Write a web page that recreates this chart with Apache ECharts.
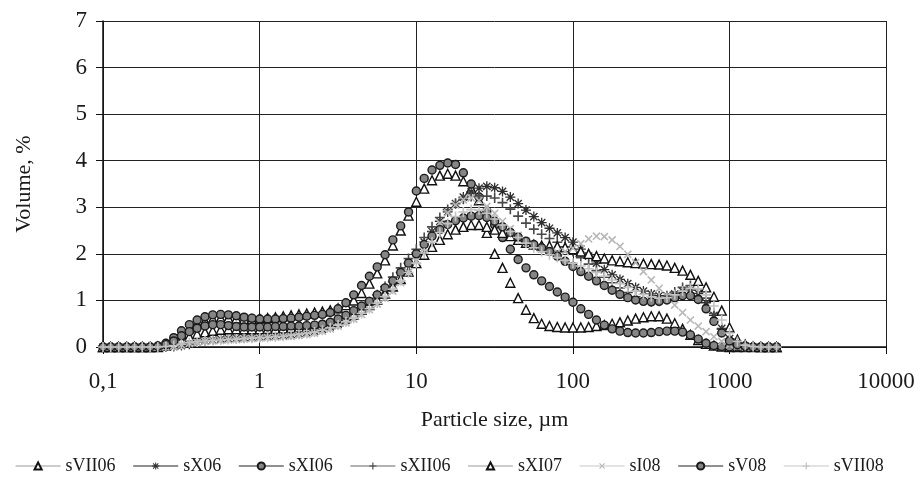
<!DOCTYPE html>
<html>
<head>
<meta charset="utf-8">
<script src="https://cdn.jsdelivr.net/npm/echarts@6/dist/echarts.min.js"></script>
<style>
  html, body { margin: 0; padding: 0; background: #fff; }
  #chart { width: 922px; height: 477px; }
</style>
</head>
<body>
<div id="chart"></div>
<script>
// particle size classes, µm
var sizes = [
  0.100, 0.112, 0.126, 0.142, 0.159, 0.178, 0.200, 0.224, 0.252, 0.283, 0.317, 0.356, 0.399, 0.448, 0.502, 0.564, 0.632, 0.710, 0.796, 0.893,
  1.002, 1.125, 1.262, 1.416, 1.589, 1.783, 2.000, 2.244, 2.518, 2.825, 3.170, 3.557, 3.991, 4.477, 5.024, 5.637, 6.325, 7.096, 7.962, 8.934,
  10.02, 11.25, 12.62, 14.16, 15.89, 17.83, 20.00, 22.44, 25.18, 28.25, 31.70, 35.57, 39.91, 44.77, 50.24, 56.37, 63.25, 70.96, 79.62, 89.34,
  100.2, 112.5, 126.2, 141.6, 158.9, 178.3, 200.0, 224.4, 251.8, 282.5, 317.0, 355.7, 399.1, 447.7, 502.4, 563.7, 632.5, 709.6, 796.2, 893.4,
  1002, 1125, 1262, 1416, 1589, 1783, 2000
];

// volume, %
var sVII06 = [
  0, 0, 0, 0, 0, 0, 0, 0.01, 0.05, 0.14, 0.27, 0.4, 0.5, 0.56, 0.6, 0.62, 0.62, 0.61, 0.6, 0.6,
  0.61, 0.62, 0.64, 0.66, 0.68, 0.7, 0.72, 0.74, 0.76, 0.79, 0.83, 0.9, 1.0, 1.16, 1.36, 1.58, 1.86, 2.18, 2.5, 2.82,
  3.12, 3.4, 3.58, 3.68, 3.72, 3.68, 3.56, 3.4, 3.15, 2.45, 2.0, 1.7, 1.38, 1.05, 0.8, 0.62, 0.5, 0.45, 0.43, 0.42,
  0.42, 0.42, 0.43, 0.45, 0.47, 0.5, 0.53, 0.57, 0.61, 0.64, 0.66, 0.66, 0.61, 0.51, 0.39, 0.26, 0.15, 0.07, 0.03, 0.01,
  0, 0, 0, 0, 0, 0, 0
];
var sX06 = [
  0, 0, 0, 0, 0, 0, 0, 0, 0, 0.01, 0.03, 0.06, 0.1, 0.13, 0.15, 0.17, 0.18, 0.19, 0.2, 0.21,
  0.22, 0.23, 0.24, 0.25, 0.27, 0.29, 0.31, 0.34, 0.38, 0.43, 0.49, 0.57, 0.66, 0.77, 0.9, 1.05, 1.22, 1.4, 1.6, 1.8,
  2.02, 2.25, 2.48, 2.7, 2.9, 3.08, 3.22, 3.33, 3.41, 3.45, 3.42, 3.34, 3.22, 3.08, 2.94, 2.8, 2.67, 2.55, 2.45, 2.35,
  2.25, 2.1, 1.95, 1.8, 1.66, 1.55, 1.45, 1.36, 1.28, 1.2, 1.14, 1.1, 1.1, 1.14, 1.2, 1.22, 1.15, 0.95, 0.68, 0.4,
  0.18, 0.07, 0.02, 0, 0, 0, 0
];
var sXI06 = [
  0, 0, 0, 0, 0, 0, 0, 0.02, 0.08, 0.2, 0.35, 0.48, 0.58, 0.65, 0.69, 0.7, 0.69, 0.67, 0.64, 0.62,
  0.6, 0.6, 0.6, 0.61, 0.62, 0.64, 0.66, 0.68, 0.7, 0.74, 0.82, 0.95, 1.12, 1.32, 1.52, 1.72, 1.98, 2.3, 2.6, 2.9,
  3.35, 3.62, 3.8, 3.9, 3.95, 3.92, 3.74, 3.5, 3.22, 2.92, 2.62, 2.35, 2.1, 1.88, 1.7, 1.55, 1.42, 1.3, 1.18, 1.07,
  0.96, 0.82, 0.7, 0.58, 0.47, 0.39, 0.34, 0.31, 0.3, 0.3, 0.31, 0.33, 0.34, 0.34, 0.32, 0.26, 0.17, 0.08, 0.03, 0.01,
  0, 0, 0, 0, 0, 0, 0
];
var sXII06 = [
  0, 0, 0, 0, 0, 0, 0, 0, 0.01, 0.03, 0.06, 0.1, 0.13, 0.16, 0.18, 0.2, 0.21, 0.22, 0.22, 0.23,
  0.24, 0.25, 0.26, 0.27, 0.29, 0.31, 0.34, 0.37, 0.41, 0.46, 0.53, 0.61, 0.71, 0.83, 0.97, 1.12, 1.3, 1.5, 1.7, 1.9,
  2.1, 2.35, 2.58, 2.78, 2.95, 3.08, 3.17, 3.23, 3.25, 3.24, 3.2, 3.1, 2.96, 2.81, 2.66, 2.53, 2.42, 2.33, 2.25, 2.15,
  2.05, 1.92, 1.78, 1.64, 1.5, 1.38, 1.27, 1.17, 1.08, 1.0, 0.97, 0.98, 1.05, 1.18, 1.28, 1.32, 1.25, 1.05, 0.72, 0.38,
  0.15, 0.05, 0.01, 0, 0, 0, 0
];
var sXI07 = [
  0, 0, 0, 0, 0, 0, 0, 0, 0.03, 0.08, 0.15, 0.22, 0.28, 0.32, 0.35, 0.37, 0.38, 0.38, 0.38, 0.38,
  0.38, 0.39, 0.39, 0.4, 0.41, 0.42, 0.43, 0.45, 0.47, 0.5, 0.55, 0.62, 0.7, 0.8, 0.9, 1.02, 1.15, 1.3, 1.46, 1.62,
  1.8, 1.98, 2.15, 2.3, 2.42, 2.52, 2.58, 2.62, 2.62, 2.58, 2.52, 2.45, 2.38, 2.3, 2.24, 2.2, 2.18, 2.17, 2.16, 2.14,
  2.1, 2.05, 2.0, 1.95, 1.9, 1.86, 1.84, 1.82, 1.8, 1.79, 1.78, 1.77, 1.75, 1.7, 1.64, 1.55, 1.42, 1.28, 1.08, 0.78,
  0.42, 0.16, 0.05, 0.01, 0, 0, 0
];
var sI08 = [
  0, 0, 0, 0, 0, 0, 0, 0, 0, 0.02, 0.05, 0.08, 0.1, 0.12, 0.13, 0.14, 0.15, 0.16, 0.17, 0.18,
  0.19, 0.2, 0.21, 0.22, 0.23, 0.25, 0.27, 0.3, 0.34, 0.39, 0.45, 0.52, 0.6, 0.7, 0.8, 0.92, 1.05, 1.2, 1.38, 1.6,
  1.85, 2.12, 2.4, 2.66, 2.88, 3.05, 3.16, 3.2, 3.14, 3.02, 2.87, 2.7, 2.54, 2.4, 2.28, 2.18, 2.1, 2.05, 2.03, 2.05,
  2.12, 2.22, 2.32, 2.38, 2.37, 2.3, 2.16, 1.99, 1.81, 1.62, 1.44, 1.26, 1.08, 0.9, 0.74, 0.58, 0.45, 0.33, 0.22, 0.12,
  0.05, 0.02, 0, 0, 0, 0, 0
];
var sV08 = [
  0, 0, 0, 0, 0, 0, 0, 0.01, 0.05, 0.13, 0.24, 0.33, 0.4, 0.45, 0.48, 0.48, 0.46, 0.44, 0.43, 0.43,
  0.43, 0.43, 0.44, 0.44, 0.45, 0.45, 0.46, 0.47, 0.49, 0.53, 0.6, 0.68, 0.78, 0.88, 0.98, 1.12, 1.27, 1.42, 1.6, 1.8,
  2.0, 2.2, 2.38, 2.52, 2.63, 2.71, 2.77, 2.81, 2.82, 2.78, 2.7, 2.58, 2.46, 2.36, 2.27, 2.2, 2.13, 2.05, 1.95, 1.84,
  1.73, 1.62, 1.52, 1.42, 1.32, 1.22, 1.13, 1.06, 1.01, 0.98, 0.97, 0.98, 1.01, 1.06, 1.1, 1.1, 1.02, 0.82, 0.55, 0.3,
  0.13, 0.05, 0.02, 0, 0, 0, 0
];
var sVII08 = [
  0, 0, 0, 0, 0, 0, 0, 0, 0.01, 0.03, 0.06, 0.09, 0.11, 0.13, 0.14, 0.15, 0.16, 0.17, 0.18, 0.19,
  0.2, 0.21, 0.22, 0.23, 0.25, 0.27, 0.29, 0.32, 0.36, 0.41, 0.47, 0.54, 0.62, 0.72, 0.82, 0.94, 1.08, 1.24, 1.42, 1.6,
  1.8, 2.02, 2.25, 2.46, 2.65, 2.8, 2.9, 2.95, 2.94, 2.87, 2.75, 2.62, 2.48, 2.35, 2.23, 2.13, 2.05, 1.98, 1.92, 1.86,
  1.8, 1.74, 1.68, 1.6, 1.52, 1.44, 1.36, 1.28, 1.2, 1.13, 1.08, 1.05, 1.06, 1.12, 1.2, 1.26, 1.25, 1.12, 0.88, 0.58,
  0.3, 0.12, 0.04, 0.01, 0, 0, 0
];

var FONT = 'Liberation Serif';
var PLUS = 'path://M4.2,0h1.6v10h-1.6z M0,4.2h10v1.6h-10z';
var STAR = 'path://M4.35,0h1.3v10h-1.3z M0,4.35h10v1.3h-10z M0.9,1.85L1.85,0.9L9.1,8.15L8.15,9.1z M8.15,0.9L9.1,1.85L1.85,9.1L0.9,8.15z';

function pairs(vals) {
  return sizes.map(function (s, i) { return [s, vals[i]]; });
}

var defs = [
  { name: 'sVII06', data: sVII06, symbol: 'triangle', size: 9, fill: '#fff', stroke: '#111', line: '#9a9a9a' },
  { name: 'sX06', data: sX06, symbol: STAR, size: 10, fill: '#2e2e2e', stroke: null, line: '#222' },
  { name: 'sXI06', data: sXI06, symbol: 'circle', size: 8, fill: '#858585', stroke: '#1a1a1a', line: '#222' },
  { name: 'sXII06', data: sXII06, symbol: PLUS, size: 10, fill: '#484848', stroke: null, line: '#666' },
  { name: 'sXI07', data: sXI07, symbol: 'triangle', size: 9, fill: '#fff', stroke: '#111', line: '#9a9a9a' },
  { name: 'sI08', data: sI08, symbol: PLUS, size: 10, rotate: 45, fill: '#b8b8b8', stroke: null, line: '#c8c8c8' },
  { name: 'sV08', data: sV08, symbol: 'circle', size: 8, fill: '#858585', stroke: '#1a1a1a', line: '#222' },
  { name: 'sVII08', data: sVII08, symbol: PLUS, size: 10, fill: '#c2c2c2', stroke: null, line: '#c8c8c8' }
];

var series = defs.map(function (d) {
  return {
    name: d.name,
    type: 'line',
    data: pairs(d.data),
    symbol: d.symbol,
    symbolSize: d.size,
    symbolRotate: d.rotate || 0,
    showAllSymbol: true,
    lineStyle: { opacity: 0 },
    itemStyle: {
      color: d.fill,
      borderColor: d.stroke || d.fill,
      borderWidth: d.stroke ? 1.4 : 0
    },
    emphasis: { disabled: true }
  };
});

var chart = echarts.init(document.getElementById('chart'));
chart.setOption({
  animation: false,
  backgroundColor: '#fff',
  grid: { left: 103, right: 36, top: 21, bottom: 130 },
  legend: {
    left: 10,
    top: 452,
    width: 910,
    itemWidth: 45,
    itemHeight: 9,
    itemGap: 17,
    textStyle: { fontFamily: FONT, fontSize: 18, color: '#1a1a1a' },
    data: defs.map(function (d) {
      return { name: d.name, lineStyle: { color: d.line, width: 1.2, opacity: 1 } };
    })
  },
  xAxis: {
    type: 'log',
    logBase: 10,
    min: 0.1,
    max: 10000,
    name: 'Particle size, µm',
    nameLocation: 'middle',
    nameGap: 62,
    nameTextStyle: { fontFamily: FONT, fontSize: 22, color: '#1a1a1a' },
    axisLine: { lineStyle: { color: '#111', width: 1.5 } },
    axisTick: { show: true, length: 7, lineStyle: { color: '#111' } },
    minorTick: { show: false },
    splitLine: { show: true, lineStyle: { color: '#222', width: 1 } },
    axisLabel: {
      fontFamily: FONT, fontSize: 23, color: '#1a1a1a', margin: 23,
      showMinLabel: true, showMaxLabel: true,
      formatter: function (v) { return String(Number(v.toPrecision(6))).replace('.', ','); }
    }
  },
  yAxis: {
    type: 'value',
    min: 0,
    max: 7,
    interval: 1,
    name: 'Volume, %',
    nameLocation: 'middle',
    nameGap: 68,
    nameTextStyle: { fontFamily: FONT, fontSize: 22, color: '#1a1a1a' },
    axisLine: { show: true, lineStyle: { color: '#111', width: 1.5 } },
    axisTick: { show: true, length: 7, lineStyle: { color: '#111' } },
    splitLine: { show: true, lineStyle: { color: '#222', width: 1 } },
    axisLabel: { fontFamily: FONT, fontSize: 23, color: '#1a1a1a', margin: 16 }
  },
  series: series
});
</script>
</body>
</html>
